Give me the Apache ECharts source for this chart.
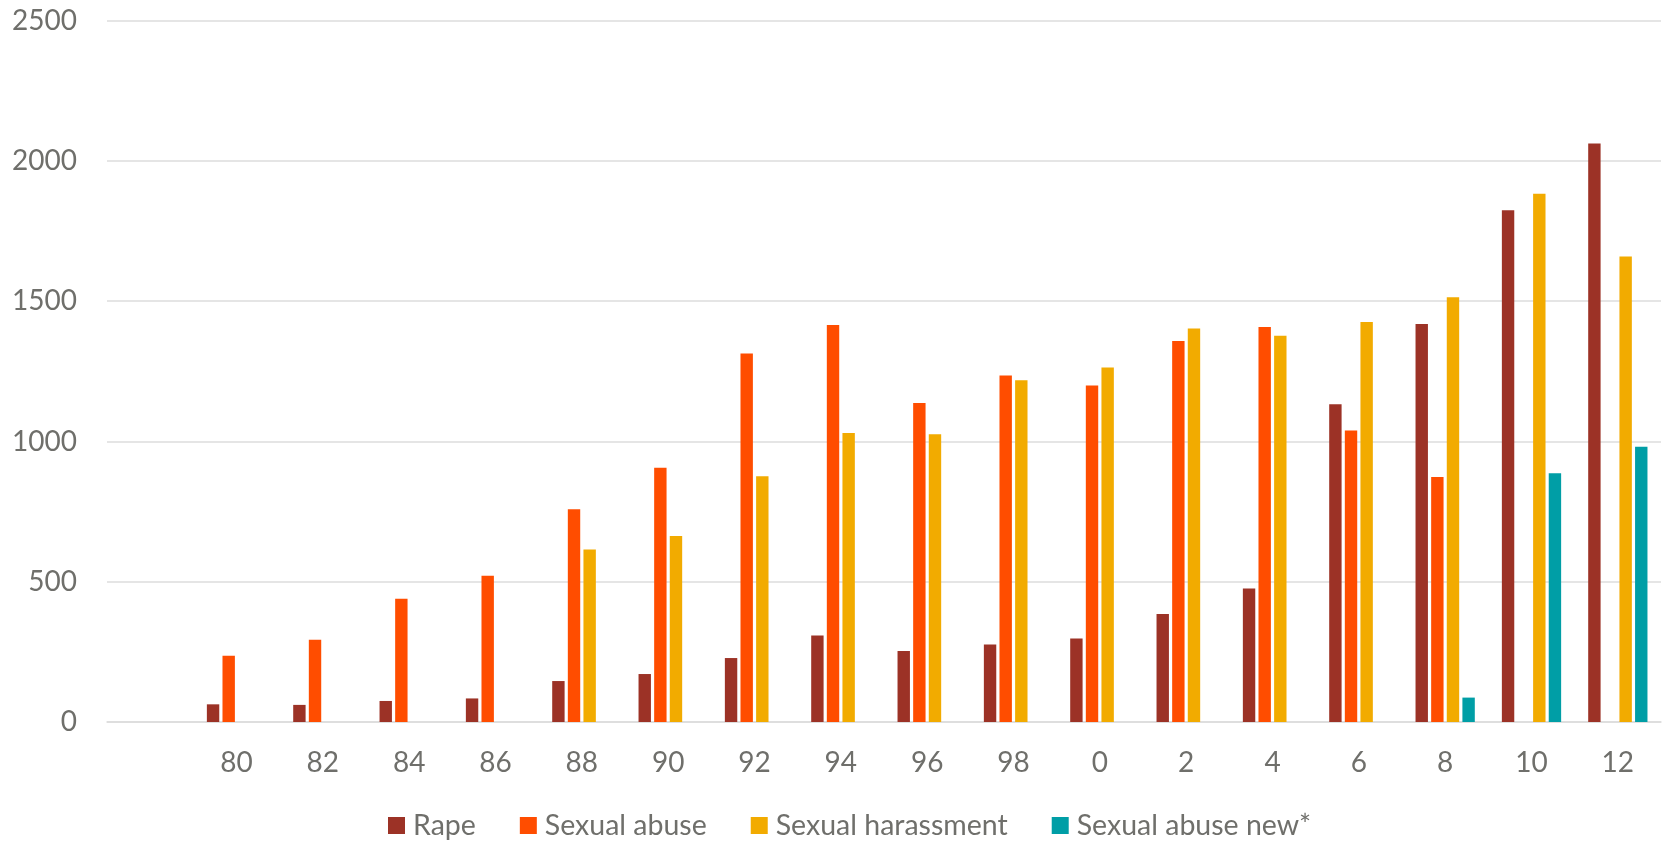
<!DOCTYPE html>
<html>
<head>
<meta charset="utf-8">
<script src="https://cdn.jsdelivr.net/npm/echarts@6/dist/echarts.min.js"></script>
<style>
html,body{margin:0;padding:0;background:#fff;}
#chart{width:1667px;height:842px;}
</style>
</head>
<body>
<div id="chart"></div>
<script>
var categories = ['', '80', '82', '84', '86', '88', '90', '92', '94', '96', '98', '0', '2', '4', '6', '8', '10', '12'];
var seriesNames = ['Rape', 'Sexual abuse', 'Sexual harassment', 'Sexual abuse new*'];
var rape = [null, 63, 61, 75, 84, 146, 171, 228, 308, 253, 276, 298, 385, 476, 1133, 1419, 1824, 2062];
var sexualAbuse = [null, 236, 293, 439, 521, 758, 906, 1314, 1415, 1137, 1235, 1200, 1358, 1408, 1039, 873, null, null];
var sexualHarassment = [null, null, null, null, null, 615, 663, 876, 1030, 1026, 1218, 1264, 1403, 1377, 1426, 1514, 1883, 1659];
var sexualAbuseNew = [null, null, null, null, null, null, null, null, null, null, null, null, null, null, null, 87, 887, 981];
var yTicks = [0, 500, 1000, 1500, 2000, 2500];

var colors = ['#9c3226', '#ff4d00', '#f2ab00', '#009ea6'];
var font = 'Lato, "Open Sans", sans-serif';
var textColor = '#6f6f6b';

var chart = echarts.init(document.getElementById('chart'));
function bar(name, data, color) {
  return {
    name: name, type: 'bar', data: data,
    barWidth: 12.4, barGap: '26%',
    itemStyle: { color: color },
    emphasis: { disabled: true }
  };
}
chart.setOption({
  animation: false,
  color: colors,
  grid: { left: 107, right: 6, top: 20.7, bottom: 120, containLabel: false },
  legend: {
    data: seriesNames,
    left: 383, top: 806,
    icon: 'rect', itemWidth: 17, itemHeight: 17, itemGap: 44,
    textStyle: { fontFamily: font, fontSize: 28.5, color: textColor, lineHeight: 28, padding: [0, 0, 0, 3] }
  },
  xAxis: {
    type: 'category', data: categories,
    axisLine: { show: true, lineStyle: { color: '#dcdcdc', width: 1.5 } },
    axisTick: { show: false },
    axisLabel: { fontFamily: font, fontSize: 28, lineHeight: 28, color: textColor, margin: 27, interval: 0 }
  },
  yAxis: {
    type: 'value', min: yTicks[0], max: yTicks[yTicks.length - 1], interval: 500,
    axisLine: { show: false }, axisTick: { show: false },
    splitLine: { lineStyle: { color: '#dcdcdc', width: 1.5 } },
    axisLabel: { fontFamily: font, fontSize: 28, color: textColor, margin: 30, formatter: function (v) { return String(v); } }
  },
  series: [
    bar(seriesNames[0], rape, colors[0]),
    bar(seriesNames[1], sexualAbuse, colors[1]),
    bar(seriesNames[2], sexualHarassment, colors[2]),
    bar(seriesNames[3], sexualAbuseNew, colors[3])
  ]
});
</script>
</body>
</html>
